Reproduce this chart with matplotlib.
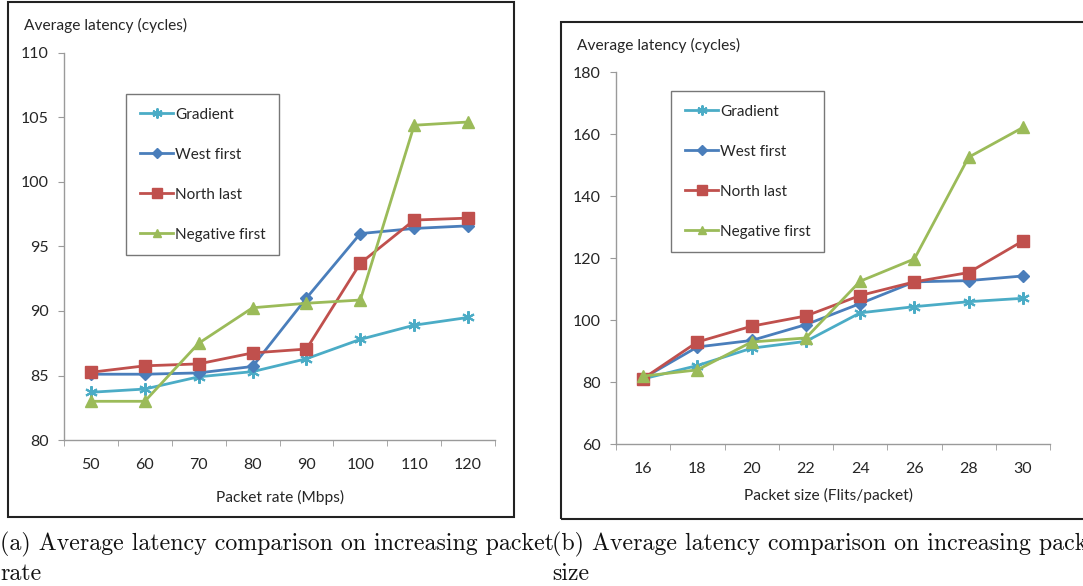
import matplotlib
matplotlib.use("Agg")
import matplotlib.pyplot as plt
from matplotlib.patches import Rectangle
import numpy as np

# ---- data ----
rate_labels = ["50", "60", "70", "80", "90", "100", "110", "120"]
size_labels = ["16", "18", "20", "22", "24", "26", "28", "30"]
series_names = ["Gradient", "West first", "North last", "Negative first"]

rate_gradient = [83.7, 83.95, 84.9, 85.3, 86.3, 87.8, 88.9, 89.5]
rate_west = [85.1, 85.1, 85.2, 85.7, 91.0, 96.0, 96.4, 96.6]
rate_north = [85.25, 85.75, 85.9, 86.75, 87.05, 93.7, 97.05, 97.2]
rate_negative = [83.0, 83.0, 87.5, 90.25, 90.6, 90.85, 104.4, 104.65]

size_gradient = [81.1, 85.4, 91.0, 93.2, 102.4, 104.4, 106.0, 107.1]
size_west = [81.3, 91.4, 93.5, 98.6, 105.4, 112.4, 112.8, 114.3]
size_north = [81.2, 93.0, 98.1, 101.4, 108.0, 112.4, 115.4, 125.6]
size_negative = [82.0, 84.0, 93.0, 94.3, 112.6, 119.8, 152.6, 162.2]

colors = ["#4BACC6", "#4A7EBB", "#C0504D", "#9BBB59"]
markers = [(6, 2, 0), "D", "s", "^"]
msizes = [9, 6, 9, 8]

FONT = "Lato"
W, H = 1083, 586
fig = plt.figure(figsize=(W / 100, H / 100), dpi=100)


def fx(px):
    return px / W


def fy(py):
    return 1 - py / H


def make_panel(rect, labels, series, ylim, yticks, ylab_pos, xlab, xlab_pos, leg_anchor):
    ax = fig.add_axes(rect)
    x = np.arange(len(labels))
    handles = []
    for vals, c, m, ms, name in zip(series, colors, markers, msizes, series_names):
        h, = ax.plot(x, vals, color=c, lw=2.0, marker=m, ms=ms, mfc=c, mec=c,
                     mew=1.5 if m == (6, 2, 0) else 1, label=name, clip_on=False)
        handles.append(h)
    ax.set_xlim(-0.5, len(labels) - 0.5)
    ax.set_ylim(*ylim)
    ax.set_yticks(yticks)
    ax.set_yticklabels([str(t) for t in yticks], fontfamily=FONT, fontsize=11.5, color="#262626")
    ax.set_xticks(x)
    ax.set_xticklabels(labels, fontfamily=FONT, fontsize=11.5, color="#262626")
    ax.set_xticks(np.arange(-0.5, len(labels)), minor=True)
    ax.tick_params(axis="x", which="major", length=0, pad=13)
    ax.tick_params(axis="x", which="minor", length=4, color="#9a9a9a", direction="out")
    ax.tick_params(axis="y", length=4, color="#9a9a9a", direction="out", pad=7)
    for s in ["top", "right"]:
        ax.spines[s].set_visible(False)
    for s in ["left", "bottom"]:
        ax.spines[s].set_color("#9a9a9a")
        ax.spines[s].set_linewidth(1.0)
    fig.text(fx(ylab_pos[0]), fy(ylab_pos[1]), "Average latency (cycles)", fontfamily=FONT,
             fontsize=11.2, color="#262626", ha="left", va="center")
    fig.text(fx(xlab_pos[0]), fy(xlab_pos[1]), xlab, fontfamily=FONT,
             fontsize=11.2, color="#262626", ha="center", va="center")
    leg = ax.legend(handles=handles, loc="upper left", bbox_to_anchor=leg_anchor,
                    bbox_transform=fig.transFigure, frameon=True, fancybox=False,
                    prop={"family": FONT, "size": 11}, labelspacing=1.7,
                    handlelength=2.2, handletextpad=0.1, borderpad=0.9,
                    borderaxespad=0, markerscale=0.8)
    leg.get_frame().set_edgecolor("#555555")
    leg.get_frame().set_linewidth(1.0)
    for t in leg.get_texts():
        t.set_color("#262626")
    return ax


make_panel([fx(64), fy(440), fx(431), 387 / H], rate_labels,
           [rate_gradient, rate_west, rate_north, rate_negative],
           (80, 110), [80, 85, 90, 95, 100, 105, 110], (24, 25),
           "Packet rate (Mbps)", (280, 497), (fx(126), fy(94)))

make_panel([fx(616), fy(444.3), fx(434), 372 / H], size_labels,
           [size_gradient, size_west, size_north, size_negative],
           (60, 180), [60, 80, 100, 120, 140, 160, 180], (577, 45),
           "Packet size (Flits/packet)", (829, 495), (fx(671), fy(91)))

# chart borders
fig.patches.append(Rectangle((fx(8), fy(517)), fx(506), 515 / H, transform=fig.transFigure,
                             fill=False, ec="#222222", lw=1.5))
fig.patches.append(Rectangle((fx(561), fy(519)), fx(540), 497 / H, transform=fig.transFigure,
                             fill=False, ec="#222222", lw=1.5))

# captions
cap_kw = dict(fontfamily="cmr10", fontsize=17.2, color="#111111", ha="left", va="center")
fig.text(fx(0), fy(544), "(a) Average latency comparison on increasing packet", **cap_kw)
fig.text(fx(0), fy(574), "rate", **cap_kw)
fig.text(fx(552), fy(544), "(b) Average latency comparison on increasing packet", **cap_kw)
fig.text(fx(552), fy(574), "size", **cap_kw)

fig.savefig("out.png", dpi=100)
